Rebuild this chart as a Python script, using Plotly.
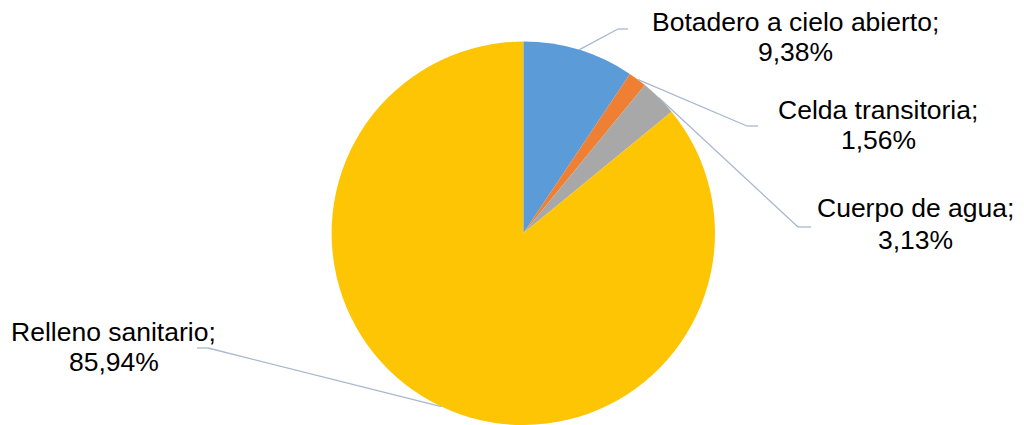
import math
import plotly.graph_objects as go

# Disposición final de residuos (porcentaje de casos)
categorias = ["Botadero a cielo abierto", "Celda transitoria", "Cuerpo de agua", "Relleno sanitario"]
porcentajes = [9.38, 1.56, 3.13, 85.94]
colores = ["#5A9BD8", "#EF7F33", "#A8A8A8", "#FDC504"]

W, H = 1024, 425

# Geometry of the pie, in pixels (origin at top-left)
CX, CY, R = 523.3, 233.3, 191.7

# Where each label sits (pixel centre of the two text lines) and the elbow of its leader line
label_pos = {
    "Botadero a cielo abierto": dict(x=795.5, y1=22, y2=52, elbow=(618, 29), end=(628, 29)),
    "Celda transitoria": dict(x=878, y1=110, y2=140, elbow=(747, 126), end=(758, 126)),
    "Cuerpo de agua": dict(x=915, y1=208, y2=240, elbow=(798, 227), end=(811, 227)),
    "Relleno sanitario": dict(x=113.5, y1=332, y2=362, elbow=(208, 348), end=(197, 348)),
}


def px(x):
    return x / W


def py(y):
    return 1 - y / H


fig = go.Figure(
    go.Pie(
        labels=categorias,
        values=porcentajes,
        marker=dict(colors=colores, line=dict(width=0)),
        sort=False,
        direction="clockwise",
        rotation=0,
        textinfo="none",
        showlegend=False,
        domain=dict(x=[px(CX - R), px(CX + R)], y=[py(CY + R), py(CY - R)]),
    )
)

total = sum(porcentajes)
acum = 0.0
shapes = []
annotations = []
font = dict(family="Liberation Sans, Arial, sans-serif", size=26.5, color="#000000")
line_style = dict(color="#A9B8CF", width=1.3)

for cat, val in zip(categorias, porcentajes):
    mid = (acum + val / 2) / total * 2 * math.pi
    acum += val
    ex = CX + R * math.sin(mid)
    ey = CY - R * math.cos(mid)
    lp = label_pos[cat]
    pts = [(ex, ey), lp["elbow"], lp["end"]]
    for (x0, y0), (x1, y1) in zip(pts[:-1], pts[1:]):
        shapes.append(dict(type="line", xref="paper", yref="paper",
                           x0=px(x0), y0=py(y0), x1=px(x1), y1=py(y1), line=line_style))
    valor = f"{val:.2f}".replace(".", ",") + "%"
    annotations.append(dict(text=cat + ";", x=px(lp["x"]), y=py(lp["y1"]), xref="paper", yref="paper",
                            xanchor="center", yanchor="middle", showarrow=False, font=font))
    annotations.append(dict(text=valor, x=px(lp["x"]), y=py(lp["y2"]), xref="paper", yref="paper",
                            xanchor="center", yanchor="middle", showarrow=False, font=font))

fig.update_layout(
    width=W,
    height=H,
    margin=dict(l=0, r=0, t=0, b=0),
    paper_bgcolor="white",
    plot_bgcolor="white",
    shapes=shapes,
    annotations=annotations,
)

fig.write_html("out.html")
